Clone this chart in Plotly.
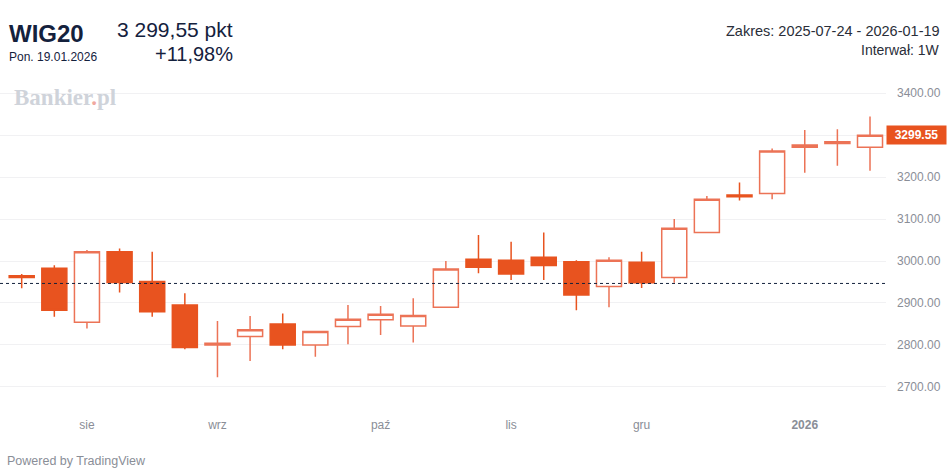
import plotly.graph_objects as go

# ---- data: weekly WIG20 candles ----
weeks = [
    "2025-07-21", "2025-07-28", "2025-08-04", "2025-08-11", "2025-08-18",
    "2025-08-25", "2025-09-01", "2025-09-08", "2025-09-15", "2025-09-22",
    "2025-09-29", "2025-10-06", "2025-10-13", "2025-10-20", "2025-10-27",
    "2025-11-03", "2025-11-10", "2025-11-17", "2025-11-24", "2025-12-01",
    "2025-12-08", "2025-12-15", "2025-12-22", "2025-12-29", "2026-01-05",
    "2026-01-12", "2026-01-19",
]
opens = [2965, 2983, 2854, 3022, 2951, 2895, 2800, 2820, 2850, 2800,
         2844, 2860, 2845, 2890, 3004, 3002, 3009, 2998, 2939, 2997,
         2961, 3068, 3157, 3161, 3271, 3280, 3271]
highs = [2969, 2990, 3026, 3030, 3022, 2923, 2857, 2869, 2875, 2832,
         2895, 2893, 2911, 3000, 3062, 3046, 3068, 3002, 3009, 3022,
         3100, 3155, 3187, 3268, 3312, 3314, 3344]
lows = [2935, 2867, 2839, 2925, 2867, 2790, 2723, 2762, 2790, 2772,
        2802, 2824, 2806, 2890, 2971, 2955, 2955, 2883, 2890, 2936,
        2948, 3068, 3144, 3147, 3210, 3227, 3215]
closes = [2961, 2883, 3022, 2949, 2879, 2794, 2804, 2836, 2800, 2832,
          2861, 2873, 2870, 2981, 2985, 2969, 2989, 2919, 3002, 2948,
          3078, 3147, 3153, 3262, 3276, 3284, 3299.55]
prev_close = 2946.55

y_ticks = [2700, 2800, 2900, 3000, 3100, 3200, 3300, 3400]
month_ticks = ["2025-08-04", "2025-09-01", "2025-10-06", "2025-11-03",
               "2025-12-01", "2026-01-05"]
month_labels = ["sie", "wrz", "paź", "lis", "gru", "<b>2026</b>"]

# ---- layout geometry (pixels) ----
W, H = 948, 468
M_L, M_R, M_T, M_B = 0, 62, 70, 58
PW, PH = W - M_L - M_R, H - M_T - M_B


def px(x):
    return (x - M_L) / PW


def py(y):
    return (H - M_B - y) / PH


UP = "#EC7356"
DOWN = "#E8531F"
NAVY = "#14213d"
GREY = "#8a8e97"
FONT = "Liberation Sans, Arial, sans-serif"

fig = go.Figure()
fig.add_trace(go.Candlestick(
    x=weeks, open=opens, high=highs, low=lows, close=closes,
    increasing=dict(line=dict(color=UP, width=1.5), fillcolor="#ffffff"),
    decreasing=dict(line=dict(color=DOWN, width=1.5), fillcolor=DOWN),
    whiskerwidth=0, hoverinfo="skip", showlegend=False,
))

# reference level (previous close) as dotted line
fig.add_shape(type="line", xref="paper", x0=0, x1=1, yref="y",
              y0=prev_close, y1=prev_close,
              line=dict(color=NAVY, width=1, dash="dot"))

last = closes[-1]
change = (last / prev_close - 1) * 100


def pl_num(v, dec=2):
    s = f"{v:,.{dec}f}"
    return s.replace(",", " ").replace(".", ",")


ann = [
    dict(x=px(7), y=py(34), text="<b>WIG20</b>", xanchor="left", yanchor="middle",
         font=dict(size=24, color=NAVY, family=FONT)),
    dict(x=px(7), y=py(57.5), text="Pon. 19.01.2026", xanchor="left", yanchor="middle",
         font=dict(size=12, color=NAVY, family=FONT)),
    dict(x=px(235), y=py(30), text=f"{pl_num(last)} pkt", xanchor="right", yanchor="middle",
         font=dict(size=21, color=NAVY, family=FONT)),
    dict(x=px(235), y=py(54), text=f"+{pl_num(change)}%", xanchor="right", yanchor="middle",
         font=dict(size=20, color=NAVY, family=FONT)),
    dict(x=px(942), y=py(31), text="Zakres: 2025-07-24 - 2026-01-19", xanchor="right",
         yanchor="middle", font=dict(size=14.5, color="#2a2e39", family=FONT)),
    dict(x=px(942), y=py(50), text="Interwał: 1W", xanchor="right",
         yanchor="middle", font=dict(size=14, color="#2a2e39", family=FONT)),
    dict(x=px(12), y=py(97), text="Bankier<span style='color:#f0a8a0'>.</span>pl",
         xanchor="left", yanchor="middle",
         font=dict(size=23, color="#cfd3da", family="Liberation Serif, DejaVu Serif, serif",
                   weight="bold")),
    dict(x=px(5), y=py(461), text="Powered by TradingView", xanchor="left",
         yanchor="middle", font=dict(size=12.5, color=GREY, family=FONT)),
    # last price tag on the price scale
    dict(x=1, xref="paper", y=last, yref="y", text=f"<b>{last:.2f}</b>",
         xanchor="left", yanchor="middle", showarrow=False, bgcolor=DOWN,
         width=55, borderpad=2, align="center",
         font=dict(size=12, color="#ffffff", family=FONT)),
]
for a in ann:
    a.setdefault("xref", "paper")
    a.setdefault("yref", "paper")
    a.setdefault("showarrow", False)
    fig.add_annotation(**a)

fig.update_layout(
    width=W, height=H, autosize=False,
    margin=dict(l=M_L, r=M_R, t=M_T, b=M_B, pad=0),
    paper_bgcolor="#ffffff", plot_bgcolor="#ffffff",
    boxgap=0.233, boxgroupgap=0,
    showlegend=False,
    font=dict(family=FONT, color=GREY, size=12),
    xaxis=dict(
        type="date", range=["2025-07-16 08:15", "2026-01-22 10:20"],
        tickvals=month_ticks, ticktext=month_labels,
        showgrid=False, zeroline=False, showline=False, ticks="",
        rangeslider=dict(visible=False), ticklabelstandoff=6,
        tickfont=dict(size=12, color=GREY, family=FONT),
    ),
    yaxis=dict(
        side="right", range=[2645.2, 3454.8],
        tickvals=y_ticks,
        ticktext=[f"{v:.2f}" if v != 3300 else "" for v in y_ticks],
        showgrid=True, gridcolor="#f1f1f3", gridwidth=1,
        zeroline=False, showline=False, ticks="", ticklabelstandoff=10,
        tickfont=dict(size=12, color=GREY, family=FONT),
    ),
)

fig.write_html("out.html")
